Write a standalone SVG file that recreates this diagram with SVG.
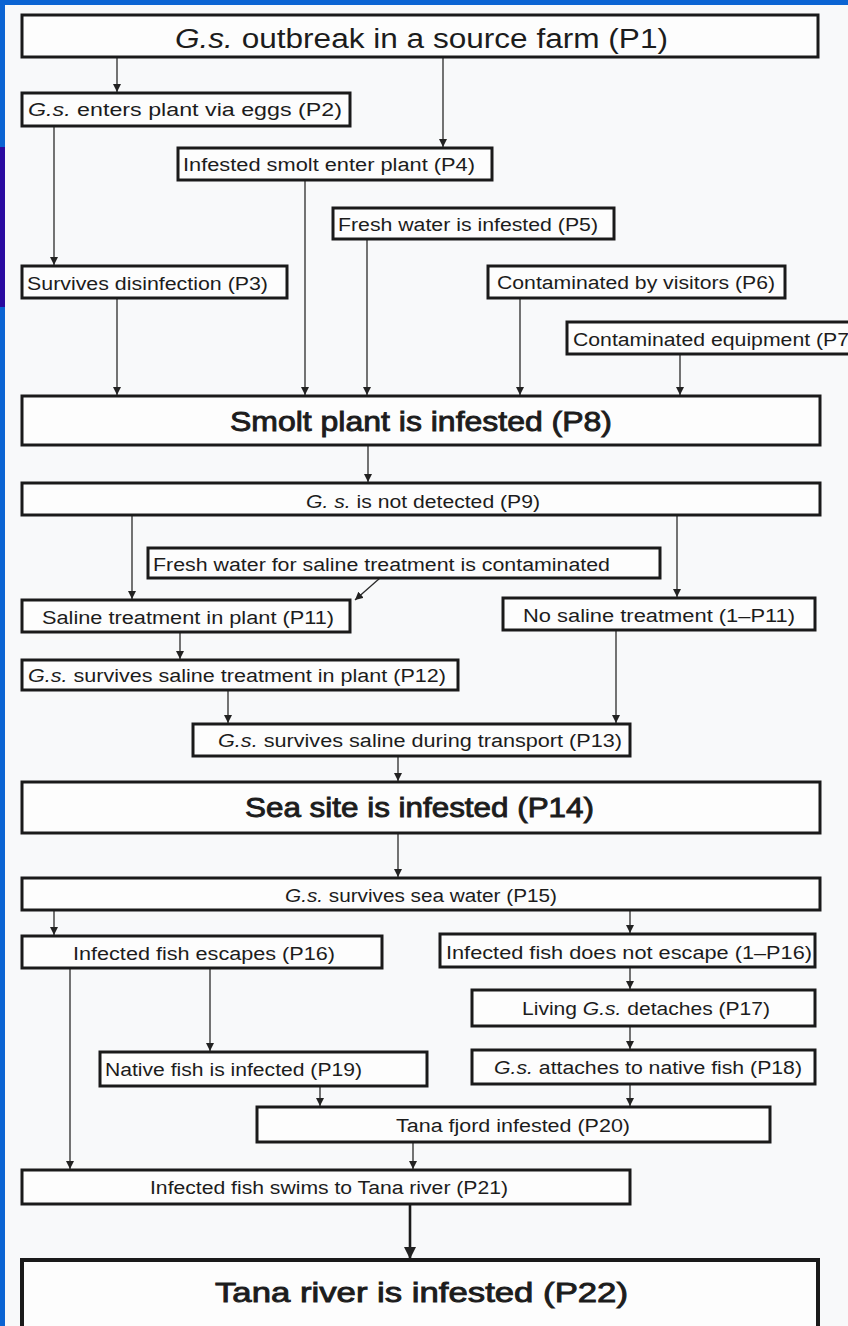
<svg xmlns="http://www.w3.org/2000/svg" width="848" height="1326" viewBox="0 0 848 1326">
  <defs>
    <marker id="arr" viewBox="0 0 10 10" refX="10" refY="5" markerWidth="8" markerHeight="8" markerUnits="userSpaceOnUse" orient="auto">
      <path d="M0,0 L10,5 L0,10 z" fill="#222"/>
    </marker>
    <marker id="arrBig" viewBox="0 0 10 10" refX="10" refY="5" markerWidth="12" markerHeight="12" markerUnits="userSpaceOnUse" orient="auto">
      <path d="M0,0 L10,5 L0,10 z" fill="#222"/>
    </marker>
    <style>
      .box { fill: #fdfdfd; stroke: #1a1a1a; stroke-width: 3; }
      .t { font-family: "Liberation Sans", Arial, sans-serif; fill: #1c1c1c; text-anchor: start; }
      .s { font-size: 18px; }
      .l { font-size: 27px; }
      .b { font-size: 28px; stroke: #1c1c1c; stroke-width: 0.9; }
      .i { font-style: italic; }
      .c { stroke: #2a2a2a; stroke-width: 1.3; fill: none; marker-end: url(#arr); }
      .cb { stroke: #1a1a1a; stroke-width: 2.6; fill: none; marker-end: url(#arrBig); }
    </style>
  </defs>

  <!-- page and frame -->
  <rect x="0" y="0" width="848" height="1326" fill="#f8f9fa"/>
  <rect x="0" y="0" width="848" height="5" fill="#0b64d3"/>
  <rect x="0" y="0" width="5" height="1326" fill="#0b64d3"/>
  <rect x="0" y="147" width="5" height="160" fill="#2a0ba0"/>

  <!-- connectors -->
  <g id="connectors">
    <line class="c" x1="117" y1="57" x2="117" y2="92"/>
    <line class="c" x1="443" y1="57" x2="443" y2="147"/>
    <line class="c" x1="54" y1="126" x2="54" y2="265"/>
    <line class="c" x1="305" y1="180" x2="305" y2="395"/>
    <line class="c" x1="367" y1="239" x2="367" y2="395"/>
    <line class="c" x1="117" y1="298" x2="117" y2="395"/>
    <line class="c" x1="520" y1="298" x2="520" y2="395"/>
    <line class="c" x1="680" y1="354" x2="680" y2="395"/>
    <line class="c" x1="368" y1="445" x2="368" y2="482"/>
    <line class="c" x1="132" y1="515" x2="132" y2="599"/>
    <line class="c" x1="677" y1="515" x2="677" y2="597"/>
    <line class="c" x1="380" y1="578" x2="355" y2="600"/>
    <line class="c" x1="180" y1="632" x2="180" y2="659"/>
    <line class="c" x1="616" y1="630" x2="616" y2="723"/>
    <line class="c" x1="228" y1="690" x2="228" y2="723"/>
    <line class="c" x1="398" y1="756" x2="398" y2="781"/>
    <line class="c" x1="398" y1="833" x2="398" y2="877"/>
    <line class="c" x1="54" y1="910" x2="54" y2="935"/>
    <line class="c" x1="630" y1="910" x2="630" y2="933"/>
    <line class="c" x1="630" y1="967" x2="630" y2="989"/>
    <line class="c" x1="630" y1="1026" x2="630" y2="1049"/>
    <line class="c" x1="210" y1="968" x2="210" y2="1051"/>
    <line class="c" x1="70" y1="968" x2="70" y2="1169"/>
    <line class="c" x1="320" y1="1086" x2="320" y2="1106"/>
    <line class="c" x1="630" y1="1084" x2="630" y2="1106"/>
    <line class="c" x1="413" y1="1142" x2="413" y2="1169"/>
    <line class="cb" x1="410" y1="1204" x2="410" y2="1259"/>
  </g>

  <g id="p1">
    <rect class="box" x="22" y="15" width="796" height="42"/>
    <text class="t l" x="175" y="48" textLength="493" lengthAdjust="spacingAndGlyphs"><tspan class="i">G.s.</tspan> outbreak in a source farm (P1)</text>
  </g>
  <g id="p2">
    <rect class="box" x="22" y="93" width="328" height="33"/>
    <text class="t s" x="28" y="116" textLength="314" lengthAdjust="spacingAndGlyphs"><tspan class="i">G.s.</tspan> enters  plant  via eggs (P2)</text>
  </g>
  <g id="p4">
    <rect class="box" x="178" y="148" width="314" height="32"/>
    <text class="t s" x="183" y="171" textLength="292" lengthAdjust="spacingAndGlyphs">Infested smolt enter plant (P4)</text>
  </g>
  <g id="p5">
    <rect class="box" x="333" y="208" width="281" height="31"/>
    <text class="t s" x="338" y="231" textLength="260" lengthAdjust="spacingAndGlyphs">Fresh water is infested (P5)</text>
  </g>
  <g id="p3">
    <rect class="box" x="22" y="266" width="265" height="32"/>
    <text class="t s" x="27" y="290" textLength="241" lengthAdjust="spacingAndGlyphs">Survives disinfection (P3)</text>
  </g>
  <g id="p6">
    <rect class="box" x="488" y="266" width="297" height="32"/>
    <text class="t s" x="497" y="289" textLength="278" lengthAdjust="spacingAndGlyphs">Contaminated  by visitors (P6)</text>
  </g>
  <g id="p7">
    <rect class="box" x="567" y="322" width="290" height="32"/>
    <text class="t s" x="573" y="346" textLength="276" lengthAdjust="spacingAndGlyphs">Contaminated  equipment (P7</text>
  </g>
  <g id="p8">
    <rect class="box" x="22" y="396" width="798" height="49"/>
    <text class="t b" x="230" y="431" textLength="382" lengthAdjust="spacingAndGlyphs">Smolt plant is infested (P8)</text>
  </g>
  <g id="p9">
    <rect class="box" x="22" y="483" width="798" height="32"/>
    <text class="t s" x="306" y="508" textLength="234" lengthAdjust="spacingAndGlyphs"><tspan class="i">G. s.</tspan>  is not detected (P9)</text>
  </g>
  <g id="p10">
    <rect class="box" x="148" y="548" width="512" height="30"/>
    <text class="t s" x="153" y="571" textLength="457" lengthAdjust="spacingAndGlyphs">Fresh water for saline  treatment is contaminated</text>
  </g>
  <g id="p11">
    <rect class="box" x="22" y="600" width="328" height="32"/>
    <text class="t s" x="42" y="624" textLength="292" lengthAdjust="spacingAndGlyphs">Saline treatment in plant (P11)</text>
  </g>
  <g id="p11n">
    <rect class="box" x="503" y="598" width="312" height="32"/>
    <text class="t s" x="523" y="622" textLength="272" lengthAdjust="spacingAndGlyphs">No saline treatment (1–P11)</text>
  </g>
  <g id="p12">
    <rect class="box" x="22" y="660" width="436" height="30"/>
    <text class="t s" x="28" y="682" textLength="418" lengthAdjust="spacingAndGlyphs"><tspan class="i">G.s.</tspan>  survives saline treatment in plant (P12)</text>
  </g>
  <g id="p13">
    <rect class="box" x="193" y="724" width="437" height="32"/>
    <text class="t s" x="218" y="747" textLength="404" lengthAdjust="spacingAndGlyphs"><tspan class="i">G.s.</tspan> survives saline  during transport (P13)</text>
  </g>
  <g id="p14">
    <rect class="box" x="22" y="782" width="798" height="51"/>
    <text class="t b" x="245" y="817" textLength="349" lengthAdjust="spacingAndGlyphs">Sea site is infested (P14)</text>
  </g>
  <g id="p15">
    <rect class="box" x="22" y="878" width="798" height="32"/>
    <text class="t s" x="285" y="902" textLength="272" lengthAdjust="spacingAndGlyphs"><tspan class="i">G.s.</tspan> survives sea water (P15)</text>
  </g>
  <g id="p16">
    <rect class="box" x="22" y="936" width="360" height="32"/>
    <text class="t s" x="73" y="960" textLength="262" lengthAdjust="spacingAndGlyphs">Infected fish escapes (P16)</text>
  </g>
  <g id="p16n">
    <rect class="box" x="440" y="934" width="375" height="33"/>
    <text class="t s" x="446" y="959" textLength="366" lengthAdjust="spacingAndGlyphs">Infected fish does not escape (1–P16)</text>
  </g>
  <g id="p17">
    <rect class="box" x="472" y="990" width="343" height="36"/>
    <text class="t s" x="522" y="1015" textLength="248" lengthAdjust="spacingAndGlyphs">Living <tspan class="i">G.s.</tspan> detaches (P17)</text>
  </g>
  <g id="p19">
    <rect class="box" x="100" y="1052" width="327" height="34"/>
    <text class="t s" x="105" y="1076" textLength="257" lengthAdjust="spacingAndGlyphs">Native fish is infected (P19)</text>
  </g>
  <g id="p18">
    <rect class="box" x="472" y="1050" width="343" height="34"/>
    <text class="t s" x="494" y="1074" textLength="308" lengthAdjust="spacingAndGlyphs"><tspan class="i">G.s.</tspan> attaches to native fish (P18)</text>
  </g>
  <g id="p20">
    <rect class="box" x="257" y="1107" width="513" height="35"/>
    <text class="t s" x="396" y="1132" textLength="234" lengthAdjust="spacingAndGlyphs">Tana fjord infested (P20)</text>
  </g>
  <g id="p21">
    <rect class="box" x="22" y="1170" width="608" height="34"/>
    <text class="t s" x="150" y="1194" textLength="358" lengthAdjust="spacingAndGlyphs">Infected fish swims to Tana river (P21)</text>
  </g>
  <g id="p22">
    <rect class="box" x="22" y="1260" width="796" height="80" style="stroke-width:4"/>
    <text class="t b" x="215" y="1302" font-size="29" textLength="413" lengthAdjust="spacingAndGlyphs">Tana river is infested (P22)</text>
  </g>
</svg>
